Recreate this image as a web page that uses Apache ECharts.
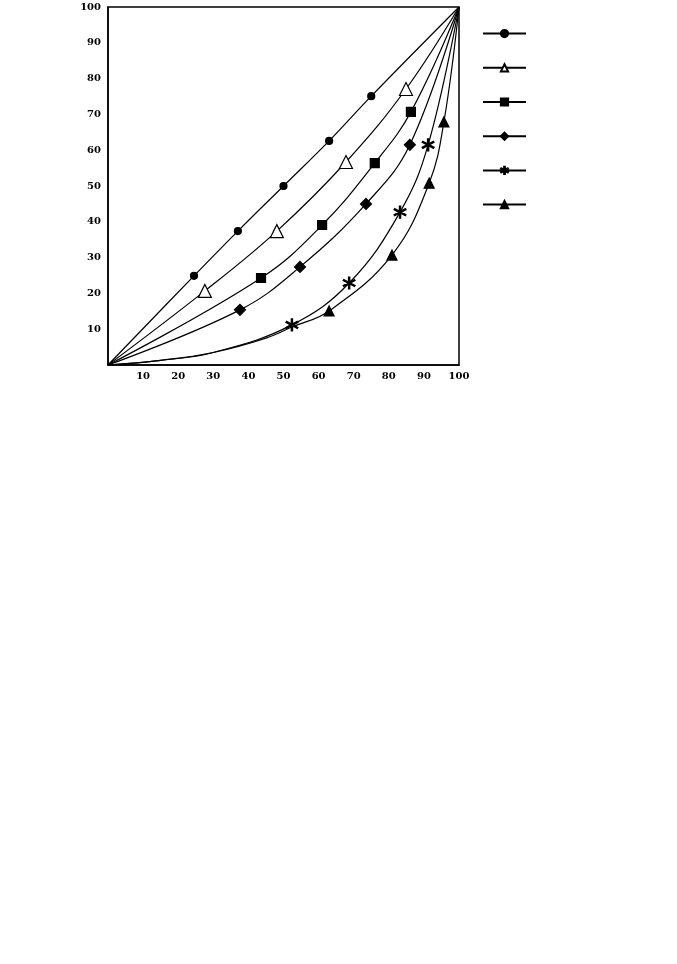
<!DOCTYPE html>
<html>
<head>
<meta charset="utf-8">
<script src="https://cdn.jsdelivr.net/npm/echarts@6/dist/echarts.min.js"></script>
<style>
  html, body { margin: 0; padding: 0; background: #fff; }
  #chart { width: 677px; height: 964px; }
</style>
</head>
<body>
<div id="chart"></div>
<script>
// tick labels (no 0 label on either axis)
const xTicks = [10, 20, 30, 40, 50, 60, 70, 80, 90, 100]
const yTicks = [10, 20, 30, 40, 50, 60, 70, 80, 90, 100]

// curves; mark = 1 where a symbol is drawn
const circleX = [0, 24.5, 37, 50, 63, 75, 100]
const circleY = [0, 24.9, 37.4, 50, 62.6, 75.1, 100]
const circleMark = [0, 1, 1, 1, 1, 1, 0]

const triOpenX = [0, 27.6, 48.1, 67.8, 84.9, 100]
const triOpenY = [0, 20.7, 37.4, 56.7, 77.1, 100]
const triOpenMark = [0, 1, 1, 1, 1, 0]

const squareX = [0, 43.6, 61, 76, 86.3, 100]
const squareY = [0, 24.3, 39.1, 56.4, 70.7, 100]
const squareMark = [0, 1, 1, 1, 1, 0]

const diamondX = [0, 37.6, 54.7, 73.5, 86, 100]
const diamondY = [0, 15.4, 27.4, 45, 61.5, 100]
const diamondMark = [0, 1, 1, 1, 1, 0]

const starX = [0, 15, 30, 52.4, 68.7, 83.2, 91.2, 100]
const starY = [0, 1.3, 3.5, 11.2, 22.9, 42.7, 61.5, 100]
const starMark = [0, 0, 0, 1, 1, 1, 1, 0]

const triFillX = [0, 15, 30, 45, 52.4, 63, 80.9, 91.5, 95.7, 100]
const triFillY = [0, 1.3, 3.5, 7.5, 10.6, 15.1, 30.7, 50.8, 67.9, 100]
const triFillMark = [0, 0, 0, 0, 0, 1, 1, 1, 1, 0]

const starPath = 'path://M-1,-10L1,-10L1,10L-1,10Z' +
  'M8.16,5.87L9.16,4.13L-8.16,-5.87L-9.16,-4.13Z' +
  'M9.16,-4.13L8.16,-5.87L-9.16,4.13L-8.16,5.87Z'

function buildData(xs, ys, marks) {
  return xs.map((x, i) => {
    let item = { value: [x, ys[i]] }
    if (!marks[i]) item.symbol = 'none'
    return item
  })
}

function makeSeries(name, xs, ys, marks, symbol, size, fill) {
  return {
    name: name,
    type: 'line',
    smooth: 0.4,
    symbol: symbol,
    symbolSize: size,
    showAllSymbol: true,
    lineStyle: { color: '#000', width: 1.2 },
    itemStyle: { color: fill, borderColor: '#000', borderWidth: 1.2 },
    emphasis: { disabled: true },
    data: buildData(xs, ys, marks)
  }
}

const chart = echarts.init(document.getElementById('chart'))
const labelFont = {
  color: '#000',
  fontFamily: 'DejaVu Serif',
  fontWeight: 'bold',
  fontSize: 10
}

let option = {
  animation: false,
  backgroundColor: '#fff',
  grid: {
    left: 108, top: 7, width: 351, height: 358,
    show: true, borderColor: '#000', borderWidth: 1.5,
    containLabel: false
  },
  legend: {
    orient: 'vertical',
    left: 477,
    top: 24,
    itemWidth: 43,
    itemHeight: 9,
    itemGap: 25,
    formatter: () => '',
    selectedMode: false,
    data: ['a', 'b', 'c', 'd', 'e', 'f']
  },
  xAxis: {
    type: 'value',
    min: 0, max: 100, interval: 10,
    axisLine: { show: true, lineStyle: { color: '#000', width: 1.5 } },
    axisTick: { show: false },
    splitLine: { show: false },
    axisLabel: Object.assign({
      margin: 6,
      formatter: v => (xTicks.indexOf(v) >= 0 ? String(v) : '')
    }, labelFont)
  },
  yAxis: {
    type: 'value',
    min: 0, max: 100, interval: 10,
    axisLine: { show: true, lineStyle: { color: '#000', width: 1.5 } },
    axisTick: { show: false },
    splitLine: { show: false },
    axisLabel: Object.assign({
      margin: 7,
      formatter: v => (yTicks.indexOf(v) >= 0 ? String(v) : '')
    }, labelFont)
  },
  series: [
    makeSeries('a', circleX, circleY, circleMark, 'circle', 7, '#000'),
    makeSeries('b', triOpenX, triOpenY, triOpenMark, 'triangle', 13, '#fff'),
    makeSeries('c', squareX, squareY, squareMark, 'rect', 9, '#000'),
    makeSeries('d', diamondX, diamondY, diamondMark, 'diamond', 11, '#000'),
    makeSeries('e', starX, starY, starMark, starPath, 12, '#000'),
    makeSeries('f', triFillX, triFillY, triFillMark, 'triangle', 10, '#000')
  ]
}
option && chart.setOption(option)
</script>
</body>
</html>
